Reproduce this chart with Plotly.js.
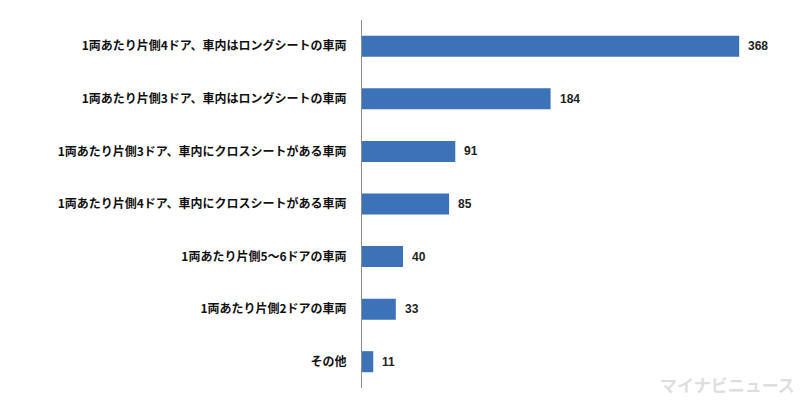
<!DOCTYPE html>
<html>
<head>
<meta charset="utf-8">
<script src="https://cdn.plot.ly/plotly-3.0.1.min.js"></script>
<style>html,body{margin:0;padding:0;background:#fff;}#chart{width:800px;height:400px;}</style>
</head>
<body>
<div id="chart"></div>
<script>
const categories = [
  "1両あたり片側4ドア、車内はロングシートの車両",
  "1両あたり片側3ドア、車内はロングシートの車両",
  "1両あたり片側3ドア、車内にクロスシートがある車両",
  "1両あたり片側4ドア、車内にクロスシートがある車両",
  "1両あたり片側5～6ドアの車両",
  "1両あたり片側2ドアの車両",
  "その他"
];
const counts = [368, 184, 91, 85, 40, 33, 11];

const bars = {
  type: 'bar',
  orientation: 'h',
  y: categories,
  x: counts,
  width: 0.4,
  marker: {color: '#3b72b8', line: {width: 0}},
  hoverinfo: 'x+y'
};

const annotations = counts.map((v, i) => ({
  x: v, y: categories[i], xref: 'x', yref: 'y',
  text: String(v), showarrow: false,
  xanchor: 'left', yanchor: 'middle', xshift: 7,
  font: {family: 'Liberation Sans, Arial, sans-serif', size: 12, color: '#222', weight: 'bold'}
}));
annotations.push({
  xref: 'paper', yref: 'paper', x: 1.06, y: -0.03,
  xanchor: 'right', yanchor: 'bottom', showarrow: false,
  text: 'マイナビニュース',
  font: {family: 'Noto Sans CJK JP', size: 17, color: 'rgba(200,200,200,0.6)', weight: 'bold'}
});

const layout = {
  width: 800, height: 400,
  margin: {l: 362, r: 28, t: 20, b: 12},
  paper_bgcolor: '#ffffff', plot_bgcolor: '#ffffff',
  showlegend: false,
  bargap: 0.6,
  xaxis: {
    range: [0, 400], showgrid: false, zeroline: false,
    showticklabels: false, showline: false, ticks: ''
  },
  yaxis: {
    type: 'category', range: [6.5, -0.5],
    showgrid: false, zeroline: false,
    showline: true, linecolor: '#8c8c8c', linewidth: 1,
    ticks: '', ticklabelstandoff: 12,
    tickfont: {family: 'Noto Sans CJK JP', size: 12, color: '#111', weight: 'bold'}
  },
  annotations: annotations
};

Plotly.newPlot('chart', [bars], layout, {displayModeBar: false, staticPlot: true});
</script>
</body>
</html>
